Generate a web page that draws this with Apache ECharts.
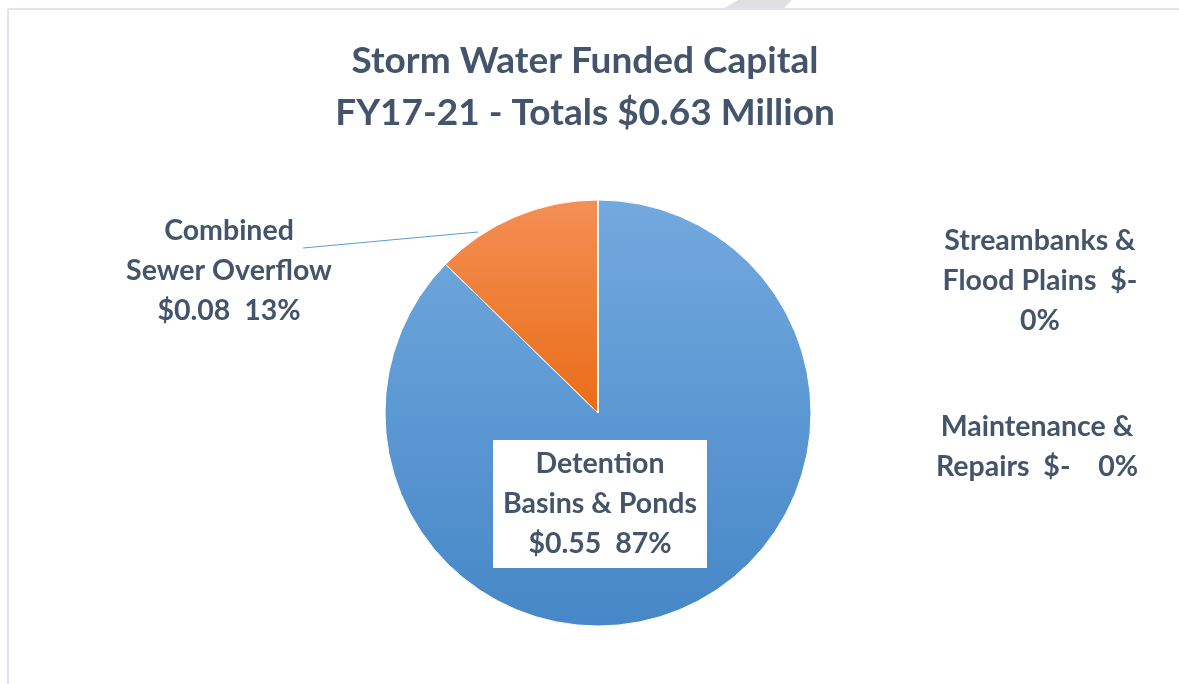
<!DOCTYPE html>
<html>
<head>
<meta charset="utf-8">
<script src="https://cdn.jsdelivr.net/npm/echarts@6/dist/echarts.min.js"></script>
<style>
  html, body { margin: 0; padding: 0; background: #fff; }
  #chart { width: 1179px; height: 684px; }
</style>
</head>
<body>
<div id="chart"></div>
<script>
// data ($ millions)
const categories = ['Detention Basins & Ponds', 'Combined Sewer Overflow', 'Streambanks & Flood Plains', 'Maintenance & Repairs']
const values = [0.55, 0.08, 0, 0]
// how each label wraps
const labelNames = ['Detention\nBasins & Ponds', 'Combined\nSewer Overflow', 'Streambanks &\nFlood Plains', 'Maintenance &\nRepairs']
const labelGapA = ['\n', '\n', '  ', '  ']
const labelGapB = ['  ', '  ', '\n', '    ']
const titleLines = ['Storm Water Funded Capital', 'FY17-21 - Totals $0.63 Million']

const textColor = '#44546a'
const font = 'Lato'

const grad = (c1, c2) => new echarts.graphic.LinearGradient(0, 0, 0, 1, [
  { offset: 0, color: c1 }, { offset: 1, color: c2 }
])
const sliceColors = [grad('#72a9de', '#4687c7'), grad('#f48f55', '#e96d17'), '#a5a5a5', '#ffc000']

const total = values.reduce((a, b) => a + b, 0)
const money = v => v === 0 ? '$-' : '$' + v.toFixed(2)

// label centres (layout only)
const labelPos = [[600, 504], [229, 271], [1040, 281], [1037, 447]]

const chart = echarts.init(document.getElementById('chart'))

chart.setOption({
  animation: false,
  title: {
    text: titleLines.join('\n'),
    left: 580,
    top: 30,
    textAlign: 'center',
    textStyle: { fontFamily: font, fontWeight: 'bold', fontSize: 37, lineHeight: 52, color: textColor }
  },
  graphic: [
    { type: 'line', shape: { x1: 8, y1: 9, x2: 1179, y2: 9 }, style: { stroke: '#dfe5ea', lineWidth: 2 } },
    { type: 'line', shape: { x1: 8, y1: 9, x2: 8, y2: 684 }, style: { stroke: '#dfe5ea', lineWidth: 2 } },
    { type: 'polygon', shape: { points: [[738, 0], [792, 0], [784, 8], [725, 8]] }, style: { fill: '#e0e0e0' } }
  ],
  series: [{
    type: 'pie',
    center: [598, 413],
    radius: 213,
    startAngle: 90,
    clockwise: true,
    avoidLabelOverlap: false,
    itemStyle: { borderColor: '#fff', borderWidth: 1 },
    emphasis: { disabled: true },
    label: {
      fontFamily: font,
      fontWeight: 'bold',
      fontSize: 28.5,
      lineHeight: 40,
      color: textColor,
      align: 'center',
      formatter: p => {
        const i = p.dataIndex
        const pct = Math.round(values[i] / total * 100) + '%'
        return labelNames[i] + labelGapA[i] + money(values[i]) + labelGapB[i] + pct
      }
    },
    labelLine: { show: false },
    labelLayout: p => {
      const i = p.dataIndex
      const out = { x: labelPos[i][0], y: labelPos[i][1], align: 'center', verticalAlign: 'middle' }
      if (i === 1) out.labelLinePoints = [[303, 248], [390, 240], [478, 232]]
      return out
    },
    data: categories.map((name, i) => ({
      name: name,
      value: values[i],
      itemStyle: { color: sliceColors[i] },
      label: i === 0
        ? { position: 'inside', backgroundColor: '#fff', padding: [4, 10, 4, 10] }
        : { position: 'outside' },
      labelLine: i === 1
        ? { show: true, lineStyle: { color: '#5b9bd5', width: 1 } }
        : { show: false }
    }))
  }]
})
</script>
</body>
</html>
